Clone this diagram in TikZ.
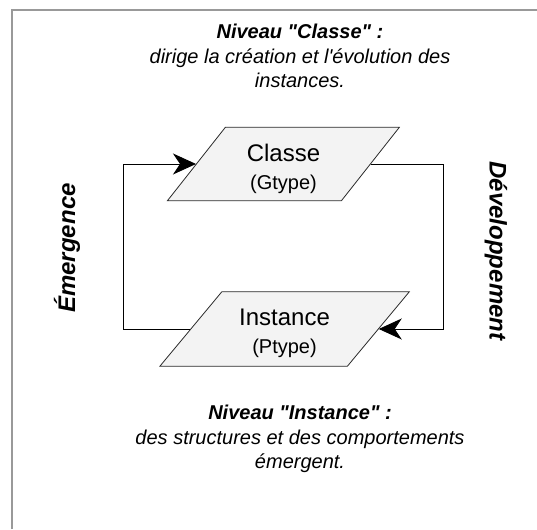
\documentclass[tikz,border=0pt]{standalone}
\usepackage{fontspec}
\setmainfont{Liberation Sans}
\usetikzlibrary{arrows.meta}
\definecolor{framegray}{HTML}{999999}
\definecolor{boxfill}{HTML}{F3F3F3}
\definecolor{boxline}{HTML}{2A2A2A}
\begin{document}
\begin{tikzpicture}[x=1pt,y=1pt,
  para/.style={rectangle, draw=boxline, fill=boxfill, line width=0.8pt, inner sep=0pt},
  flow/.style={draw=black, line width=0.9pt, line join=miter,
    -{Stealth[length=23pt,width=21pt,inset=7pt]}},
  mainlbl/.style={inner sep=0pt, anchor=base, font=\fontsize{24}{28}\selectfont},
  sublbl/.style={inner sep=0pt, anchor=base, font=\fontsize{20}{24}\selectfont},
  levelnote/.style={inner sep=0pt, anchor=north, align=center,
    font=\fontsize{20}{24.5}\selectfont\itshape},
  sidelbl/.style={inner sep=0pt, font=\fontsize{24}{28}\selectfont\bfseries\itshape}]
\useasboundingbox (0,0) rectangle (537,529);

% page frame (only the top and left edges lie inside the page)
\draw[framegray, line width=2pt, line join=miter] (12,0) -- (12,519) -- (537,519);

% level descriptions
\node[levelnote] (topnote) at (300,505)
  {\textbf{Niveau \textquotedbl Classe\textquotedbl\ :}\\dirige la création et l\textquotesingle évolution des\\instances.};
\node[levelnote] (botnote) at (300,124)
  {\textbf{Niveau \textquotedbl Instance\textquotedbl\ :}\\des structures et des comportements\\émergent.};

% the two levels as parallelograms
\node[para, xslant=0.789, minimum width=174pt, minimum height=73.5pt] (classe) at (283.4,365) {};
\node[para, xslant=0.832, minimum width=187.5pt, minimum height=74.5pt] (inst) at (284.6,200) {};

\node[mainlbl] (classeT) at (283.5,367) {Classe};
\node[sublbl]  (classeS) at (283.5,339) {(Gtype)};
\node[mainlbl] (instT) at (284.5,203) {Instance};
\node[sublbl]  (instS) at (284.5,175) {(Ptype)};

% feedback loop
\coordinate (loopL) at (123,0);
\coordinate (loopR) at (443,0);
\draw[flow] (inst.west) -- (inst.west -| loopL) |- (classe.west);
\draw[flow] (classe.east) -- (classe.east -| loopR) |- (inst.east);

% loop labels
\node[sidelbl, rotate=90]  (emerg) at (67,281) {Émergence};
\node[sidelbl, rotate=-90] (devel) at (496,278) {Développement};
\end{tikzpicture}
\end{document}
